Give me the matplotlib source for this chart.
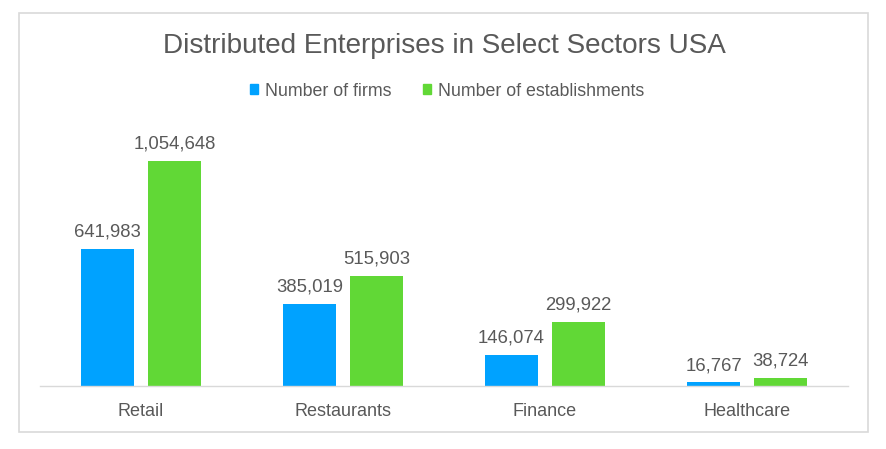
import matplotlib
matplotlib.use("Agg")
import matplotlib.pyplot as plt
import numpy as np
from matplotlib.patches import Patch, Rectangle

plt.rcParams["font.family"] = ["Liberation Sans", "DejaVu Sans"]

sectors = ["Retail", "Restaurants", "Finance", "Healthcare"]
firms = [641983, 385019, 146074, 16767]
establishments = [1054648, 515903, 299922, 38724]
series_names = ["Number of firms", "Number of establishments"]

BLUE = "#00A2FF"
GREEN = "#61D836"
TEXT = "#595959"
GRID = "#D9D9D9"

W, H = 886, 449
fig = plt.figure(figsize=(W / 100, H / 100), dpi=100)
fig.patch.set_facecolor("white")

# chart border
fig.add_artist(Rectangle((19 / W, 1 - 432 / H), (868 - 19) / W, (432 - 13) / H,
                         transform=fig.transFigure, fill=False, ec=GRID, lw=1.2))

ax = fig.add_axes([40 / W, 1 - 386 / H, 808 / W, 256 / H])
x = np.arange(len(sectors))
bw = 0.262
off = 0.166
b1 = ax.bar(x - off, firms, bw, color=BLUE)
b2 = ax.bar(x + off, establishments, bw, color=GREEN)

for bars, vals in ((b1, firms), (b2, establishments)):
    for rect, v in zip(bars, vals):
        ax.annotate(f"{v:,}", (rect.get_x() + rect.get_width() / 2, v),
                    xytext=(0, 6), textcoords="offset points",
                    ha="center", va="bottom", fontsize=13.3, color=TEXT)

ax.set_xlim(-0.5, len(sectors) - 0.5)
ax.set_ylim(0, 1200000)
ax.set_xticks(x)
ax.set_xticklabels(sectors, fontsize=13, color=TEXT)
ax.tick_params(axis="x", length=0, pad=12)
ax.set_yticks([])
for s in ("top", "right", "left"):
    ax.spines[s].set_visible(False)
ax.spines["bottom"].set_color(GRID)
ax.spines["bottom"].set_linewidth(1.0)

fig.text(444 / W, 1 - 46 / H, "Distributed Enterprises in Select Sectors USA",
         ha="center", va="center", fontsize=20.1, color=TEXT)

handles = [Patch(color=BLUE), Patch(color=GREEN)]
fig.legend(handles, series_names, loc="center", bbox_to_anchor=(447 / W, 1 - 91 / H),
           ncol=2, frameon=False, fontsize=12.8, labelcolor=TEXT,
           handlelength=0.45, handleheight=0.45, handletextpad=0.4, columnspacing=1.75)

fig.savefig("out.png", dpi=100, facecolor="white")
